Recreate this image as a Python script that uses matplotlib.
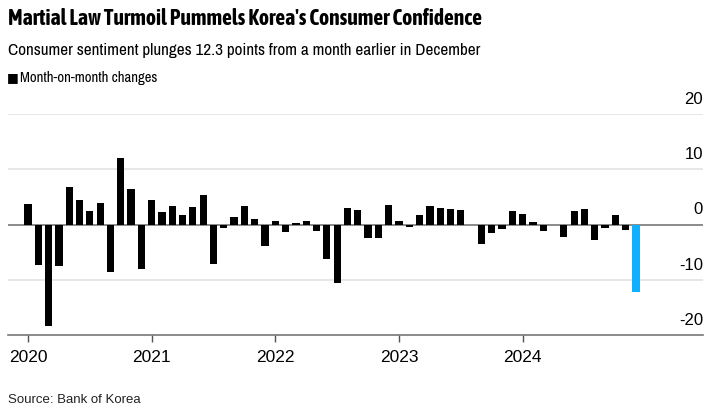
import matplotlib.pyplot as plt
import matplotlib.transforms as mtransforms
from matplotlib import font_manager

# month-on-month change in consumer sentiment, Jan 2020 .. Dec 2024
changes_2020 = [3.8, -7.3, -18.4, -7.6, 6.8, 4.4, 2.4, 3.9, -8.6, 12.1, 6.5, -8.1]
changes_2021 = [4.4, 2.2, 3.3, 1.8, 3.2, 5.3, -7.2, -0.7, 1.3, 3.3, 1.0, -3.9]
changes_2022 = [0.6, -1.3, 0.25, 0.6, -1.2, -6.3, -10.6, 2.9, 2.7, -2.5, -2.4, 3.5]
changes_2023 = [0.6, -0.4, 1.8, 3.3, 3.0, 2.8, 2.7, -0.1, -3.5, -1.5, -0.85, 2.4]
changes_2024 = [1.9, 0.4, -1.1, -0.1, -2.2, 2.5, 2.8, -2.8, -0.7, 1.7, -1.0, -12.3]
years = ["2020", "2021", "2022", "2023", "2024"]
y_ticks = [20, 10, 0, -10, -20]

values = changes_2020 + changes_2021 + changes_2022 + changes_2023 + changes_2024
months = list(range(len(values)))
colors = ["black"] * (len(values) - 1) + ["#12AEFF"]


def weight_num(w):
    if isinstance(w, str):
        return font_manager.weight_dict.get(w, 400)
    return w


# look for a condensed face (with a bold cut if possible)
fonts = font_manager.fontManager.ttflist
cond = sorted({f.name for f in fonts if "Narrow" in f.name or "Condensed" in f.name})
cond_bold = [n for n in cond if any(f.name == n and weight_num(f.weight) >= 600 for f in fonts)]
plain = ["Liberation Sans", "DejaVu Sans"]
narrow = [cond[0], "DejaVu Sans"] if cond else plain
narrow_bold = [cond_bold[0], "DejaVu Sans"] if cond_bold else narrow

fig = plt.figure(figsize=(7.21, 4.12), dpi=100)
ax = fig.add_axes([8 / 721, 1 - 335 / 412, 695 / 721, 221 / 412])

ax.bar(months, values, width=0.7, color=colors, zorder=3)

ax.set_xlim(-1.94, 65.5)
ax.set_ylim(-20, 20)

for v in y_ticks:
    if v == 0:
        ax.axhline(0, color="#777777", lw=1.2, zorder=2)
    elif v != -20:
        ax.axhline(v, color="#e3e3e3", lw=1.2, zorder=1)

# y labels sit above gridlines at the right edge
trans = mtransforms.blended_transform_factory(ax.transAxes, ax.transData)
for v in y_ticks:
    ax.text(1.0, v + 1.3, str(v), transform=trans, ha="right", va="bottom",
            fontsize=12, family=plain, color="black")

for side in ["top", "right", "left"]:
    ax.spines[side].set_visible(False)
ax.spines["bottom"].set_color("#777777")
ax.spines["bottom"].set_linewidth(1.2)

ax.set_yticks([])
ax.set_xticks([12 * i for i in range(len(years))])
ax.set_xticklabels(years, family=plain, fontsize=12.5)
ax.tick_params(axis="x", length=5, width=1, color="#555555", pad=6)

title = fig.text(8 / 721, 1 - 19 / 412, "Martial Law Turmoil Pummels Korea's Consumer Confidence",
                 fontsize=17, fontweight="bold", family=narrow_bold, va="center")
sub = fig.text(8 / 721, 1 - 50 / 412,
               "Consumer sentiment plunges 12.3 points from a month earlier in December",
               fontsize=13, family=narrow, va="center")
fig.text(7 / 721, 1 - 78 / 412, "\u25A0", fontsize=9, family=["DejaVu Sans"], va="center")
legend = fig.text(20 / 721, 1 - 78 / 412, "Month-on-month changes", fontsize=10.5,
                  family=narrow, va="center")
fig.text(8 / 721, 1 - 400 / 412, "Source: Bank of Korea", fontsize=9.5, family=plain,
         va="center", color="#222222")

# fit the header texts to the widths seen in the reference
renderer = fig.canvas.get_renderer()
for t, target in [(title, 475), (sub, 475), (legend, 137)]:
    w = t.get_window_extent(renderer).width
    t.set_fontsize(t.get_fontsize() * target / w)

plt.savefig("out.png", dpi=100)
